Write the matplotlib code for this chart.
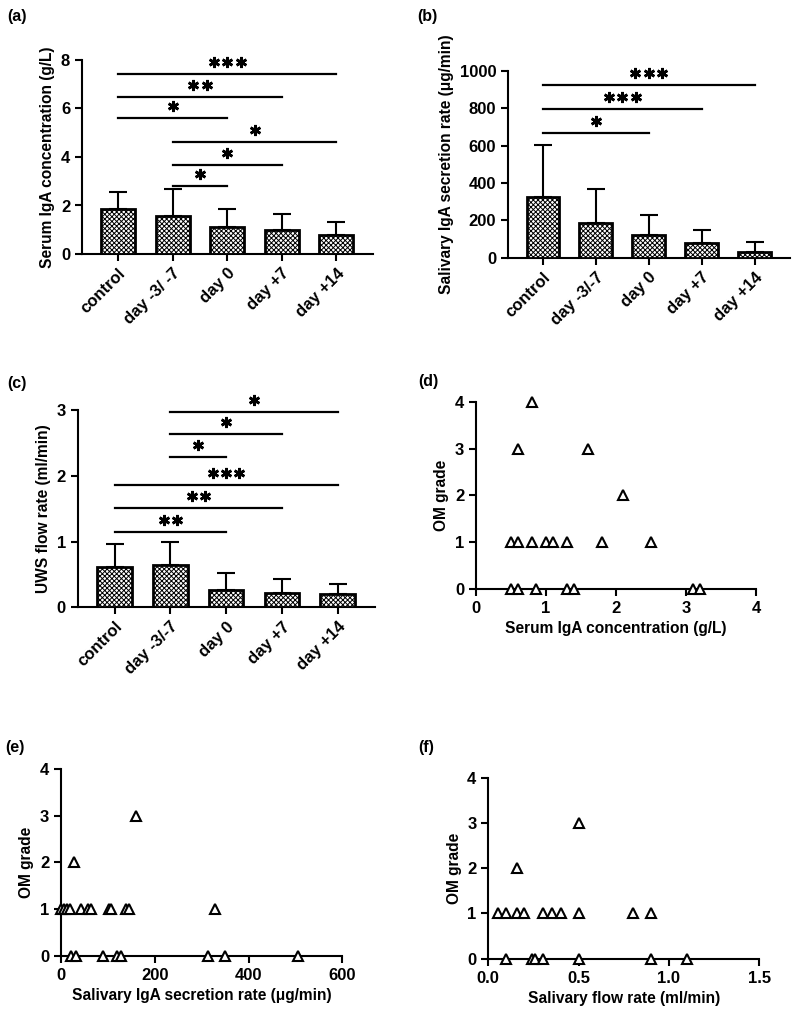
import numpy as np
import matplotlib
matplotlib.use("Agg")
import matplotlib.pyplot as plt
from matplotlib import transforms

plt.rcParams['font.family'] = ['Liberation Sans', 'DejaVu Sans']
plt.rcParams['font.weight'] = 'bold'
plt.rcParams['axes.labelweight'] = 'bold'
plt.rcParams['font.size'] = 11.2
plt.rcParams['hatch.linewidth'] = 0.7

# categories
groups_a = ["control", "day -3/ -7", "day 0", "day +7", "day +14"]
groups_bc = ["control", "day -3/-7", "day 0", "day +7", "day +14"]

# (a) serum IgA
serum_mean = [1.86, 1.57, 1.13, 1.00, 0.80]
serum_sd = [0.71, 1.10, 0.71, 0.64, 0.53]
# (b) salivary IgA secretion rate
sal_mean = [323, 188, 122, 80, 32]
sal_sd = [281, 180, 107, 68, 50]
# (c) UWS flow rate
uws_mean = [0.61, 0.65, 0.27, 0.22, 0.20]
uws_sd = [0.35, 0.34, 0.25, 0.21, 0.155]

# significance: (from, to, height, number of stars)
sig_a = [(0, 4, 7.42, 3), (0, 3, 6.47, 2), (0, 2, 5.6, 1),
         (1, 4, 4.6, 1), (1, 3, 3.67, 1), (1, 2, 2.79, 1)]
sig_b = [(0, 4, 925, 3), (0, 3, 796, 3), (0, 2, 670, 1)]
sig_c = [(1, 4, 2.97, 1), (1, 3, 2.63, 1), (1, 2, 2.28, 1),
         (0, 4, 1.86, 3), (0, 3, 1.51, 2), (0, 2, 1.15, 2)]

# (d) OM grade vs serum IgA
d_x = [0.5, 0.6, 0.8, 1.0, 1.1, 1.3, 1.8, 2.5,
       0.5, 0.6, 0.85, 1.3, 1.4, 3.1, 3.2,
       0.6, 1.6, 0.8, 2.1]
d_y = [1, 1, 1, 1, 1, 1, 1, 1,
       0, 0, 0, 0, 0, 0, 0,
       3, 3, 4, 2]
# (e) OM grade vs salivary IgA secretion rate
e_x = [0, 7, 12, 19, 42, 58, 65, 103, 107, 139, 146, 328,
       21, 32, 89, 119, 129, 313, 350, 505,
       28, 160]
e_y = [1, 1, 1, 1, 1, 1, 1, 1, 1, 1, 1, 1,
       0, 0, 0, 0, 0, 0, 0, 0,
       2, 3]
# (f) OM grade vs salivary flow rate
f_x = [0.055, 0.1, 0.157, 0.2, 0.3, 0.355, 0.4, 0.5, 0.8, 0.9,
       0.1, 0.24, 0.26, 0.3, 0.5, 0.9, 1.1,
       0.16, 0.5]
f_y = [1, 1, 1, 1, 1, 1, 1, 1, 1, 1,
       0, 0, 0, 0, 0, 0, 0,
       2, 3]

W, H = 795, 1013
fig = plt.figure(figsize=(W / 100, H / 100), dpi=100)


def make_ax(left, right, top, bottom):
    # pixel box -> figure coords
    ax = fig.add_axes([left / W, 1 - bottom / H, (right - left) / W, (bottom - top) / H])
    for s in ['top', 'right']:
        ax.spines[s].set_visible(False)
    for s in ['left', 'bottom']:
        ax.spines[s].set_linewidth(1.5)
    ax.tick_params(width=1.5, length=5, labelsize=12)
    return ax


def bar_panel(ax, labels, mean, sd, ylim, yticks, ylabel, sig):
    x = np.arange(len(labels))
    ax.bar(x, mean, width=0.62, color='white', edgecolor='k', lw=2,
           hatch='xxxxxxx', zorder=3)
    ax.errorbar(x, mean, yerr=[np.zeros(len(sd)), sd], fmt='none', ecolor='k',
                elinewidth=1.5, capsize=6.5, capthick=1.5, zorder=2)
    ax.set_xlim(-0.66, len(labels) - 1 + 0.67)
    ax.set_ylim(*ylim)
    ax.set_yticks(yticks)
    ax.set_xticks(x)
    ax.set_xticklabels(labels, rotation=45, ha='right', rotation_mode='anchor')
    ax.set_ylabel(ylabel)
    for i0, i1, y, n in sig:
        ax.plot([i0, i1], [y, y], color='k', lw=1.6, clip_on=False)
        xm = (i0 + i1) / 2
        for k in range(n):
            tr = transforms.offset_copy(ax.transData, fig=fig,
                                        x=(k - (n - 1) / 2) * 13.3, y=12, units='dots')
            ax.plot([xm], [y], marker=(6, 2, 0), ms=8, mew=1.9, color='k',
                    transform=tr, clip_on=False)


def scatter_panel(ax, x, y, xlim, xticks, xlabel, fmt=None):
    ax.plot(x, y, ls='none', marker='^', ms=6.5, mfc='white', mec='k', mew=1.5,
            clip_on=False, zorder=3)
    ax.set_xlim(*xlim)
    ax.set_xticks(xticks)
    if fmt:
        ax.set_xticklabels([fmt.format(v) for v in xticks])
    ax.set_ylim(0, 4)
    ax.set_yticks([0, 1, 2, 3, 4])
    ax.set_xlabel(xlabel)
    ax.set_ylabel("OM grade")


ax_a = make_ax(82, 373, 60, 254)
bar_panel(ax_a, groups_a, serum_mean, serum_sd, (0, 8), [0, 2, 4, 6, 8],
          "Serum IgA concentration (g/L)", sig_a)

ax_b = make_ax(508, 790, 71, 257.7)
bar_panel(ax_b, groups_bc, sal_mean, sal_sd, (0, 1000), [0, 200, 400, 600, 800, 1000],
          "Salivary IgA secretion rate (\u03bcg/min)", sig_b)

ax_c = make_ax(77.7, 375, 410, 607.3)
bar_panel(ax_c, groups_bc, uws_mean, uws_sd, (0, 3), [0, 1, 2, 3],
          "UWS flow rate (ml/min)", sig_c)

ax_d = make_ax(476, 756, 401.7, 589)
scatter_panel(ax_d, d_x, d_y, (0, 4), [0, 1, 2, 3, 4], "Serum IgA concentration (g/L)")

ax_e = make_ax(61, 342.3, 768.7, 956)
scatter_panel(ax_e, e_x, e_y, (0, 600), [0, 200, 400, 600],
              "Salivary IgA secretion rate (\u03bcg/min)")

ax_f = make_ax(488.3, 759.3, 777.7, 958.7)
scatter_panel(ax_f, f_x, f_y, (0, 1.5), [0.0, 0.5, 1.0, 1.5],
              "Salivary flow rate (ml/min)", fmt="{:.1f}")

# panel letters
for lab, px, py in [("(a)", 7, 16), ("(b)", 417, 16), ("(c)", 7, 383),
                    ("(d)", 418, 381), ("(e)", 5, 747), ("(f)", 418, 747)]:
    fig.text(px / W, 1 - py / H, lab, ha='left', va='center', fontsize=11.5, fontweight='bold')

fig.savefig("out.png", dpi=100)
